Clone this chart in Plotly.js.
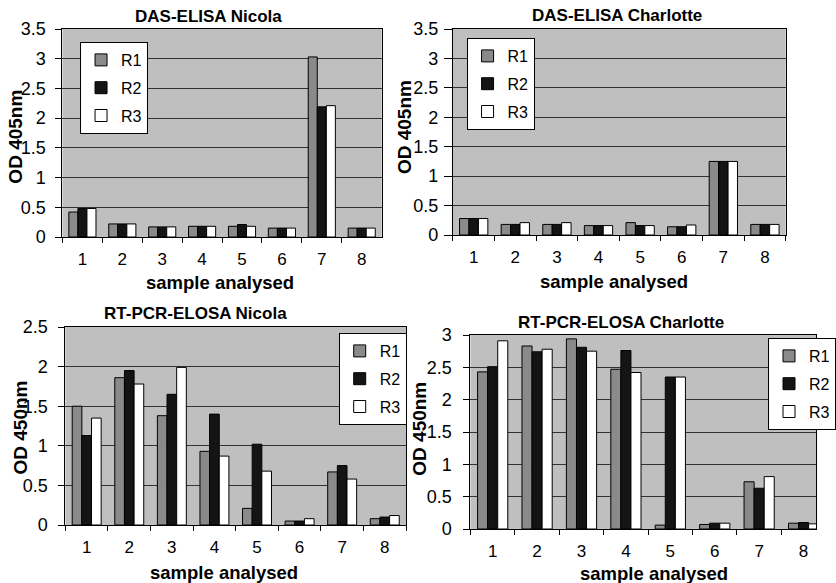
<!DOCTYPE html>
<html><head><meta charset="utf-8">
<script src="https://cdn.plot.ly/plotly-3.0.1.min.js"></script>
<style>html,body{margin:0;padding:0;background:#fff}#chart{width:836px;height:583px}</style>
</head><body><div id="chart"></div>
<script>
const samples = ['1','2','3','4','5','6','7','8'];
const seriesNames = ['R1','R2','R3'];

const dasNicolaR1 = [0.42, 0.22, 0.17, 0.18, 0.18, 0.15, 3.03, 0.15];
const dasNicolaR2 = [0.48, 0.22, 0.17, 0.18, 0.21, 0.15, 2.19, 0.15];
const dasNicolaR3 = [0.48, 0.22, 0.17, 0.18, 0.18, 0.15, 2.21, 0.15];

const dasCharlotteR1 = [0.28, 0.18, 0.18, 0.16, 0.21, 0.14, 1.25, 0.18];
const dasCharlotteR2 = [0.28, 0.18, 0.18, 0.16, 0.16, 0.14, 1.25, 0.18];
const dasCharlotteR3 = [0.28, 0.21, 0.21, 0.16, 0.16, 0.17, 1.25, 0.18];

const elosaNicolaR1 = [1.50, 1.86, 1.38, 0.93, 0.21, 0.05, 0.67, 0.08];
const elosaNicolaR2 = [1.13, 1.95, 1.65, 1.40, 1.02, 0.05, 0.75, 0.10];
const elosaNicolaR3 = [1.35, 1.78, 1.99, 0.87, 0.68, 0.08, 0.58, 0.12];

const elosaCharlotteR1 = [2.43, 2.83, 2.94, 2.47, 0.06, 0.07, 0.73, 0.09];
const elosaCharlotteR2 = [2.51, 2.74, 2.81, 2.76, 2.35, 0.09, 0.63, 0.10];
const elosaCharlotteR3 = [2.91, 2.78, 2.75, 2.42, 2.35, 0.09, 0.81, 0.08];

const panelTitles = ['DAS-ELISA Nicola', 'DAS-ELISA Charlotte', 'RT-PCR-ELOSA Nicola', 'RT-PCR-ELOSA Charlotte'];
const yTitles = ['OD 405nm', 'OD 405nm', 'OD 450nm', 'OD 450nm'];
const xTitle = 'sample analysed';

const W = 836, H = 583;
const FONT = 'Arial, "Liberation Sans", sans-serif';
const colors = ['#8a8a8a', '#141414', '#ffffff'];

const panels = [
  {data: [dasNicolaR1, dasNicolaR2, dasNicolaR3], ax: '', px: [64, 391], py: [29, 237], yr: [0, 3.5], xr: [-0.5, 7.5], leg: [82, 42], title: [214, 17], ytl: [15, 137], xtl: [225, 282], ystand: 6, ytick: 6},
  {data: [dasCharlotteR1, dasCharlotteR2, dasCharlotteR3], ax: '2', px: [464, 805], py: [29, 235], yr: [0, 3.5], xr: [-0.5, 7.5], leg: [478, 38], title: [632, 15], ytl: [414, 127], xtl: [629, 281], ystand: 2, ytick: 8},
  {data: [elosaNicolaR1, elosaNicolaR2, elosaNicolaR3], ax: '3', px: [67, 416], py: [327, 525], yr: [0, 2.5], xr: [-0.5, 7.5], leg: [347, 333], title: [200, 313], ytl: [20, 428], xtl: [230, 572], ystand: 7, ytick: 6},
  {data: [elosaCharlotteR1, elosaCharlotteR2, elosaCharlotteR3], ax: '4', px: [482, 836], py: [335, 529], yr: [0, 3], xr: [-0.5, 7.28], leg: [787, 338], title: [636, 322], ytl: [430, 429], xtl: [670, 573], ystand: 8, ytick: 6}
];

const traces = [];
const layout = {
  width: W, height: H,
  margin: {l: 0, r: 0, t: 0, b: 0},
  paper_bgcolor: '#ffffff',
  plot_bgcolor: '#bfbfbf',
  bargap: 0.32, bargroupgap: 0,
  barmode: 'group',
  font: {family: FONT, color: '#000', size: 16},
  annotations: [],
  showlegend: true
};

panels.forEach((p, i) => {
  const xa = 'x' + p.ax, ya = 'y' + p.ax;
  const legName = 'legend' + p.ax;
  p.data.forEach((vals, k) => {
    traces.push({
      type: 'bar', x: samples, y: vals, name: seriesNames[k],
      xaxis: xa, yaxis: ya, legend: legName, legendgroup: 'p' + i + 'r' + k,
      marker: {color: colors[k], line: {color: '#000', width: 1}},
      hoverinfo: 'x+y+name'
    });
  });
  const xKey = 'xaxis' + p.ax, yKey = 'yaxis' + p.ax;
  layout[xKey] = {
    domain: [p.px[0] / W, Math.min(1, p.px[1] / W)],
    anchor: ya, type: 'category', range: p.xr,
    showline: true, linecolor: '#000', linewidth: 1, mirror: true,
    ticks: 'outside', tickson: 'boundaries', ticklen: 5, tickcolor: '#000',
    showgrid: false, zeroline: false, ticklabelstandoff: 7,
    tickfont: {family: FONT, size: 17, color: '#000'}, fixedrange: true
  };
  layout[yKey] = {
    domain: [1 - p.py[1] / H, 1 - p.py[0] / H],
    anchor: xa, range: p.yr, dtick: 0.5, tick0: 0,
    showline: true, linecolor: '#000', linewidth: 1, mirror: true,
    ticks: 'outside', ticklen: p.ytick, tickcolor: '#000',
    showgrid: true, gridcolor: '#333333', gridwidth: 1, zeroline: false,
    ticklabelstandoff: p.ystand,
    tickfont: {family: FONT, size: 18, color: '#000'}, fixedrange: true
  };
  layout[legName] = {
    x: p.leg[0] / W, y: 1 - p.leg[1] / H, xanchor: 'left', yanchor: 'top',
    xref: 'paper', yref: 'paper',
    bgcolor: '#ffffff', bordercolor: '#000', borderwidth: 1,
    font: {family: FONT, size: 16, color: '#000'},
    traceorder: 'grouped', tracegroupgap: 4
  };
  layout.annotations.push({
    text: '<b>' + panelTitles[i] + '</b>', xref: 'paper', yref: 'paper',
    x: p.title[0] / W, y: 1 - p.title[1] / H, xanchor: 'center', yanchor: 'middle',
    showarrow: false, font: {family: FONT, size: 17, color: '#000'}
  });
  layout.annotations.push({
    text: '<b>' + yTitles[i] + '</b>', xref: 'paper', yref: 'paper',
    x: p.ytl[0] / W, y: 1 - p.ytl[1] / H, xanchor: 'center', yanchor: 'middle',
    textangle: -90, showarrow: false, font: {family: FONT, size: 19, color: '#000'}
  });
  layout.annotations.push({
    text: '<b>' + xTitle + '</b>', xref: 'paper', yref: 'paper',
    x: p.xtl[0] / W, y: 1 - p.xtl[1] / H, xanchor: 'center', yanchor: 'middle',
    showarrow: false, font: {family: FONT, size: 18.5, color: '#000'}
  });
});

Plotly.newPlot('chart', traces, layout, {displayModeBar: false, staticPlot: true});
</script>
</body></html>
